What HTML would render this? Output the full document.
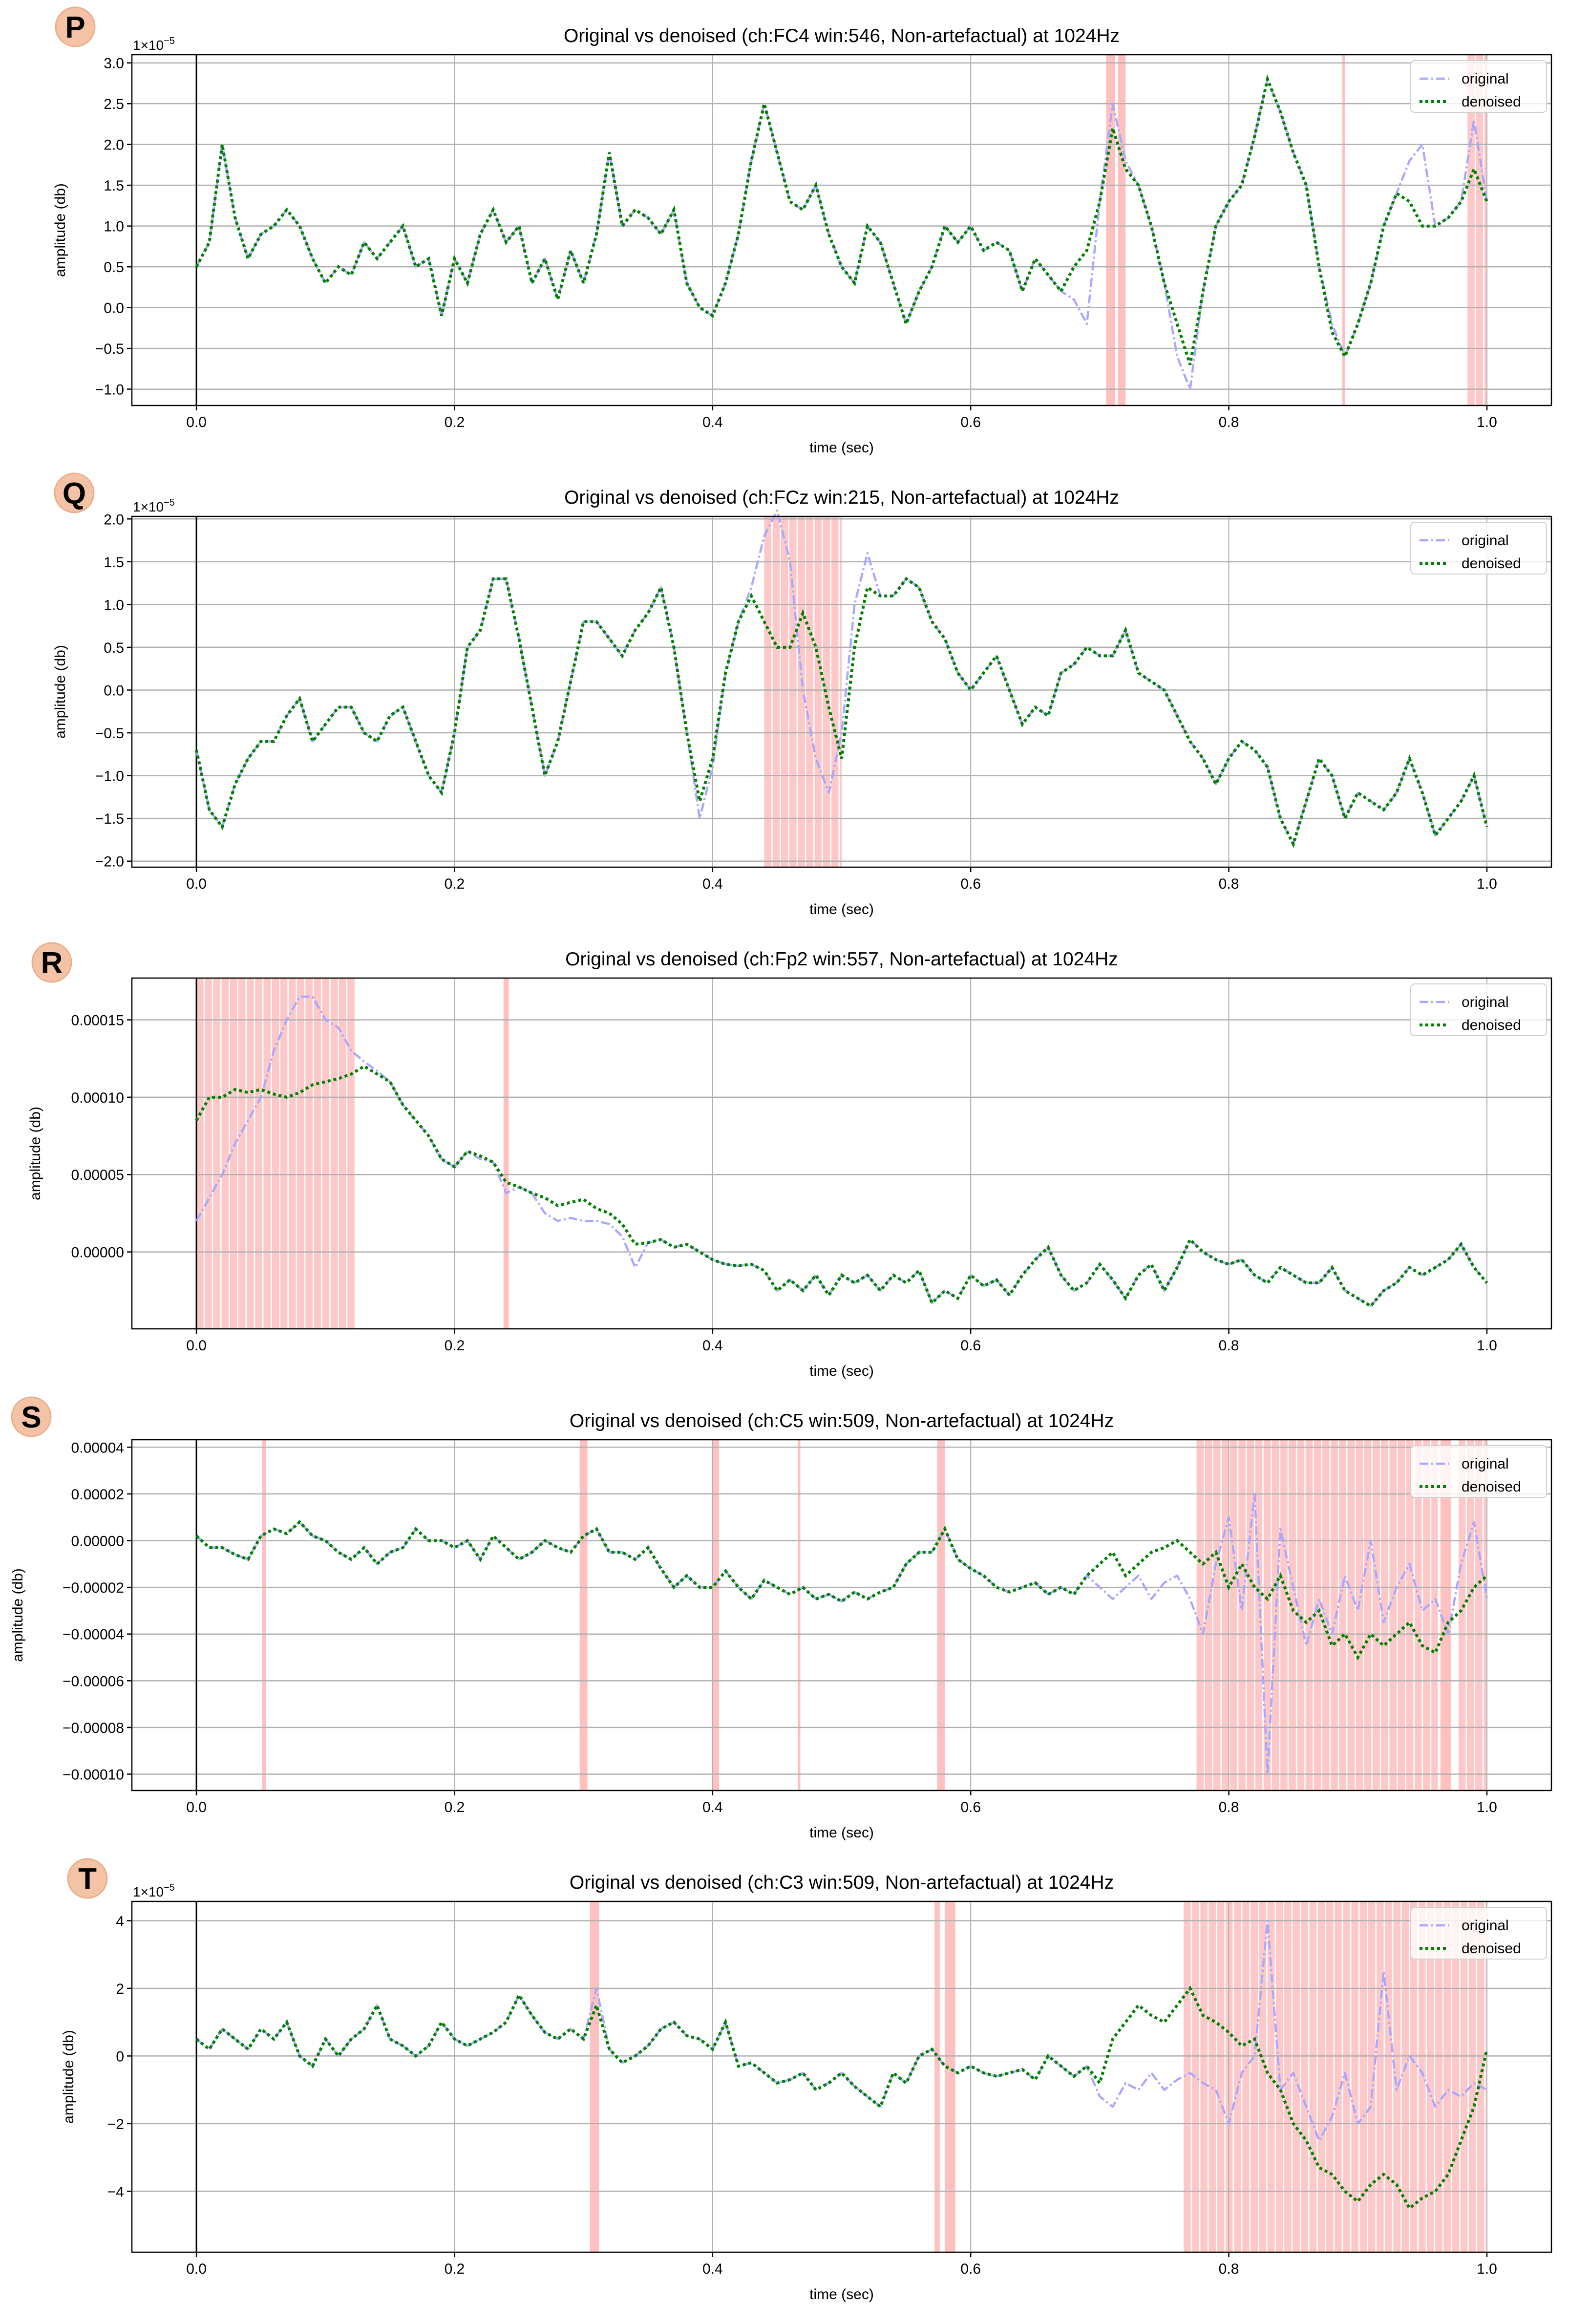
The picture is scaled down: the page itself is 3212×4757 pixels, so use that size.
<!DOCTYPE html>
<html><head><meta charset="utf-8">
<style>
html,body{margin:0;padding:0;background:#fff;}
svg{display:block;font-family:"Liberation Sans","DejaVu Sans",sans-serif;}
</style></head>
<body>
<svg id="fig" width="3212" height="4757" viewBox="0 0 3212 4757" xmlns="http://www.w3.org/2000/svg"></svg>
<script>
// ---- data (amplitude values in units of 1e-5, sampled every 0.01 s) ----
const times = [];
for (let i = 0; i <= 100; i++) times.push(i / 100);

const pDen = [0.5,0.8,2.0,1.1,0.6,0.9,1.0,1.2,1.0,0.6,0.3,0.5,0.4,0.8,0.6,0.8,1.0,0.5,0.6,-0.1,0.6,0.3,0.9,1.2,0.8,1.0,0.3,0.6,0.1,0.7,0.3,0.9,1.9,1.0,1.2,1.1,0.9,1.2,0.3,0.0,-0.1,0.3,0.9,1.8,2.5,1.9,1.3,1.2,1.5,0.9,0.5,0.3,1.0,0.8,0.3,-0.2,0.2,0.5,1.0,0.8,1.0,0.7,0.8,0.7,0.2,0.6,0.4,0.2,0.5,0.7,1.3,2.2,1.7,1.5,1.0,0.3,-0.2,-0.7,0.2,1.0,1.3,1.5,2.1,2.8,2.4,1.9,1.5,0.5,-0.3,-0.6,-0.2,0.3,1.0,1.4,1.3,1.0,1.0,1.1,1.3,1.7,1.3];
const pOrig = [0.5,0.8,2.0,1.1,0.6,0.9,1.0,1.2,1.0,0.6,0.3,0.5,0.4,0.8,0.6,0.8,1.0,0.5,0.6,-0.1,0.6,0.3,0.9,1.2,0.8,1.0,0.3,0.6,0.1,0.7,0.3,0.9,1.9,1.0,1.2,1.1,0.9,1.2,0.3,0.0,-0.1,0.3,0.9,1.8,2.5,1.9,1.3,1.2,1.5,0.9,0.5,0.3,1.0,0.8,0.3,-0.2,0.2,0.5,1.0,0.8,1.0,0.7,0.8,0.7,0.2,0.6,0.4,0.2,0.1,-0.2,1.3,2.5,1.8,1.5,1.0,0.3,-0.6,-1.0,0.2,1.0,1.3,1.5,2.1,2.8,2.4,1.9,1.5,0.5,-0.2,-0.6,-0.2,0.3,1.0,1.4,1.8,2.0,1.0,1.1,1.3,2.3,1.3];
const qDen = [-0.7,-1.4,-1.6,-1.1,-0.8,-0.6,-0.6,-0.3,-0.1,-0.6,-0.4,-0.2,-0.2,-0.5,-0.6,-0.3,-0.2,-0.6,-1.0,-1.2,-0.5,0.5,0.7,1.3,1.3,0.6,-0.2,-1.0,-0.6,0.1,0.8,0.8,0.6,0.4,0.7,0.9,1.2,0.5,-0.5,-1.3,-0.8,0.2,0.8,1.1,0.8,0.5,0.5,0.9,0.5,-0.2,-0.8,0.5,1.2,1.1,1.1,1.3,1.2,0.8,0.6,0.2,0.0,0.2,0.4,0.0,-0.4,-0.2,-0.3,0.2,0.3,0.5,0.4,0.4,0.7,0.2,0.1,0.0,-0.3,-0.6,-0.8,-1.1,-0.8,-0.6,-0.7,-0.9,-1.5,-1.8,-1.3,-0.8,-1.0,-1.5,-1.2,-1.3,-1.4,-1.2,-0.8,-1.2,-1.7,-1.5,-1.3,-1.0,-1.6];
const qOrig = [-0.7,-1.4,-1.6,-1.1,-0.8,-0.6,-0.6,-0.3,-0.1,-0.6,-0.4,-0.2,-0.2,-0.5,-0.6,-0.3,-0.2,-0.6,-1.0,-1.2,-0.5,0.5,0.7,1.3,1.3,0.6,-0.2,-1.0,-0.6,0.1,0.8,0.8,0.6,0.4,0.7,0.9,1.2,0.5,-0.5,-1.5,-0.9,0.2,0.8,1.2,1.8,2.1,1.5,0.0,-0.8,-1.2,-0.5,1.0,1.6,1.1,1.1,1.3,1.2,0.8,0.6,0.2,0.0,0.2,0.4,0.0,-0.4,-0.2,-0.3,0.2,0.3,0.5,0.4,0.4,0.7,0.2,0.1,0.0,-0.3,-0.6,-0.8,-1.1,-0.8,-0.6,-0.7,-0.9,-1.5,-1.8,-1.3,-0.8,-1.0,-1.5,-1.2,-1.3,-1.4,-1.2,-0.8,-1.2,-1.7,-1.5,-1.3,-1.0,-1.6];
const rDen = [8.5,10,10,10.5,10.3,10.5,10.2,10.0,10.3,10.8,11,11.2,11.5,12.0,11.5,11,9.5,8.5,7.5,6,5.5,6.5,6.2,5.8,4.5,4.2,3.8,3.5,3.0,3.2,3.4,2.8,2.5,1.8,0.5,0.6,0.8,0.3,0.5,0,-0.5,-0.8,-0.9,-0.8,-1.2,-2.5,-1.8,-2.5,-1.5,-2.8,-1.5,-2.0,-1.5,-2.5,-1.5,-2.0,-1.2,-3.3,-2.5,-3.0,-1.5,-2.2,-1.8,-2.8,-1.5,-0.5,0.3,-1.5,-2.5,-2.0,-0.8,-1.8,-3.0,-1.5,-0.8,-2.5,-1.0,0.8,0,-0.5,-0.8,-0.5,-1.5,-2.0,-1.0,-1.5,-2.0,-2.0,-1.0,-2.5,-3.0,-3.5,-2.5,-2.0,-1.0,-1.5,-1.0,-0.5,0.5,-1.0,-2.0];
const rOrig = [2,3.5,5,7,8.5,10,13,15,16.5,16.5,15,14.5,13,12.3,11.7,11,9.5,8.5,7.5,6,5.5,6.5,6.0,5.8,3.8,4.2,3.8,2.5,2.0,2.2,2.0,2.0,1.8,1.0,-1.0,0.6,0.8,0.3,0.5,0,-0.5,-0.8,-0.9,-0.8,-1.2,-2.5,-1.8,-2.5,-1.5,-2.8,-1.5,-2.0,-1.5,-2.5,-1.5,-2.0,-1.2,-3.3,-2.5,-3.0,-1.5,-2.2,-1.8,-2.8,-1.5,-0.5,0.3,-1.5,-2.5,-2.0,-0.8,-1.8,-3.0,-1.5,-0.8,-2.5,-1.0,0.8,0,-0.5,-0.8,-0.5,-1.5,-2.0,-1.0,-1.5,-2.0,-2.0,-1.0,-2.5,-3.0,-3.5,-2.5,-2.0,-1.0,-1.5,-1.0,-0.5,0.5,-1.0,-2.0];
const sDen = [0.2,-0.3,-0.3,-0.6,-0.8,0.2,0.5,0.3,0.8,0.2,0.0,-0.5,-0.8,-0.3,-1.0,-0.5,-0.3,0.5,0.0,0.0,-0.3,0.0,-0.8,0.2,-0.3,-0.8,-0.5,0.0,-0.3,-0.5,0.2,0.5,-0.5,-0.5,-0.8,-0.3,-1.2,-2.0,-1.5,-2.0,-2.0,-1.3,-2.0,-2.5,-1.7,-2.0,-2.3,-2.0,-2.5,-2.3,-2.6,-2.2,-2.5,-2.2,-2.0,-1.0,-0.5,-0.5,0.5,-0.8,-1.2,-1.5,-2.0,-2.2,-2.0,-1.8,-2.3,-2.0,-2.3,-1.5,-1.0,-0.5,-1.5,-1.0,-0.5,-0.3,0.0,-0.5,-1.0,-0.5,-2.0,-1.0,-2.0,-2.5,-1.5,-3.0,-3.5,-3.0,-4.5,-4.0,-5.0,-4.0,-4.5,-4.0,-3.5,-4.5,-4.8,-3.5,-3.0,-2.0,-1.5];
const sOrig = [0.2,-0.3,-0.3,-0.6,-0.8,0.2,0.5,0.3,0.8,0.2,0.0,-0.5,-0.8,-0.3,-1.0,-0.5,-0.3,0.5,0.0,0.0,-0.3,0.0,-0.8,0.2,-0.3,-0.8,-0.5,0.0,-0.3,-0.5,0.2,0.5,-0.5,-0.5,-0.8,-0.3,-1.2,-2.0,-1.5,-2.0,-2.0,-1.3,-2.0,-2.5,-1.7,-2.0,-2.3,-2.0,-2.5,-2.3,-2.6,-2.2,-2.5,-2.2,-2.0,-1.0,-0.5,-0.5,0.5,-0.8,-1.2,-1.5,-2.0,-2.2,-2.0,-1.8,-2.3,-2.0,-2.3,-1.5,-2.0,-2.5,-2.0,-1.5,-2.5,-1.8,-1.5,-2.5,-4.0,-1.0,1.0,-3.0,2.0,-10.0,0.5,-2.0,-4.5,-2.5,-4.0,-1.5,-3.0,0.0,-3.5,-2.0,-1.0,-3.0,-2.5,-4.0,-1.0,0.8,-2.5];
const tDen = [0.5,0.2,0.8,0.5,0.2,0.8,0.5,1.0,0.0,-0.3,0.5,0.0,0.5,0.8,1.5,0.5,0.3,0.0,0.3,1.0,0.5,0.3,0.5,0.7,1.0,1.8,1.2,0.7,0.5,0.8,0.5,1.5,0.2,-0.2,0.0,0.3,0.8,1.0,0.6,0.5,0.2,1.0,-0.3,-0.2,-0.5,-0.8,-0.7,-0.5,-1.0,-0.8,-0.5,-0.9,-1.2,-1.5,-0.5,-0.8,0.0,0.2,-0.3,-0.5,-0.3,-0.5,-0.6,-0.5,-0.4,-0.7,0.0,-0.3,-0.6,-0.3,-0.8,0.5,1.0,1.5,1.2,1.0,1.5,2.0,1.2,1.0,0.7,0.3,0.5,-0.5,-1.0,-2.0,-2.5,-3.3,-3.5,-4.0,-4.3,-3.8,-3.5,-3.8,-4.5,-4.2,-4.0,-3.5,-2.5,-1.5,0.2];
const tOrig = [0.5,0.2,0.8,0.5,0.2,0.8,0.5,1.0,0.0,-0.3,0.5,0.0,0.5,0.8,1.5,0.5,0.3,0.0,0.3,1.0,0.5,0.3,0.5,0.7,1.0,1.8,1.2,0.7,0.5,0.8,0.5,2.0,0.2,-0.2,0.0,0.3,0.8,1.0,0.6,0.5,0.2,1.0,-0.3,-0.2,-0.5,-0.8,-0.7,-0.5,-1.0,-0.8,-0.5,-0.9,-1.2,-1.5,-0.5,-0.8,0.0,0.2,-0.3,-0.5,-0.3,-0.5,-0.6,-0.5,-0.4,-0.7,0.0,-0.3,-0.6,-0.3,-1.2,-1.5,-0.8,-1.0,-0.5,-1.0,-0.7,-0.5,-0.8,-1.0,-2.0,-0.5,0.0,4.0,-1.0,-0.5,-1.5,-2.5,-1.8,-0.5,-2.0,-1.5,2.5,-1.0,0.0,-0.5,-1.5,-1.0,-1.2,-0.8,-1.0];

// artefact spans [start, end] in seconds
const pSpans = [[0.705,0.712],[0.714,0.72],[0.888,0.89],[0.985,1.0]];
const qSpans = [[0.44,0.50]];
const rSpans = [[0.0,0.123],[0.238,0.242]];
const sSpans = [[0.051,0.054],[0.297,0.303],[0.400,0.405],[0.466,0.468],[0.574,0.58],[0.775,0.962],[0.964,0.972],[0.978,1.0]];
const tSpans = [[0.305,0.312],[0.572,0.576],[0.58,0.588],[0.765,1.0]];

const pTicks = [-1.0,-0.5,0.0,0.5,1.0,1.5,2.0,2.5,3.0];
const pTickLabels = ["−1.0","−0.5","0.0","0.5","1.0","1.5","2.0","2.5","3.0"];
const qTicks = [-2.0,-1.5,-1.0,-0.5,0.0,0.5,1.0,1.5,2.0];
const qTickLabels = ["−2.0","−1.5","−1.0","−0.5","0.0","0.5","1.0","1.5","2.0"];
const rTicks = [0,5,10,15];
const rTickLabels = ["0.00000","0.00005","0.00010","0.00015"];
const sTicks = [-10,-8,-6,-4,-2,0,2,4];
const sTickLabels = ["−0.00010","−0.00008","−0.00006","−0.00004","−0.00002","0.00000","0.00002","0.00004"];
const tTicks = [-4,-2,0,2,4];
const tTickLabels = ["−4","−2","0","2","4"];
const xTicks = [0,0.2,0.4,0.6,0.8,1.0];
const xTickLabels = ["0.0","0.2","0.4","0.6","0.8","1.0"];

const panels = [
  {letter:"P", title:"Original vs denoised (ch:FC4 win:546, Non-artefactual) at 1024Hz", den:pDen, orig:pOrig, spans:pSpans, ticks:pTicks, labels:pTickLabels, ylim:[-1.2,3.1], offset:true, lx:154, ly:55, ylabX:133},
  {letter:"Q", title:"Original vs denoised (ch:FCz win:215, Non-artefactual) at 1024Hz", den:qDen, orig:qOrig, spans:qSpans, ticks:qTicks, labels:qTickLabels, ylim:[-2.07,2.03], offset:true, lx:152, ly:1009, ylabX:133},
  {letter:"R", title:"Original vs denoised (ch:Fp2 win:557, Non-artefactual) at 1024Hz", den:rDen, orig:rOrig, spans:rSpans, ticks:rTicks, labels:rTickLabels, ylim:[-4.97,17.7], offset:false, lx:106, ly:1970, ylabX:82},
  {letter:"S", title:"Original vs denoised (ch:C5 win:509, Non-artefactual) at 1024Hz", den:sDen, orig:sOrig, spans:sSpans, ticks:sTicks, labels:sTickLabels, ylim:[-10.7,4.32], offset:false, lx:64, ly:2900, ylabX:46},
  {letter:"T", title:"Original vs denoised (ch:C3 win:509, Non-artefactual) at 1024Hz", den:tDen, orig:tOrig, spans:tSpans, ticks:tTicks, labels:tTickLabels, ylim:[-5.8,4.57], offset:true, lx:179, ly:3845, ylabX:150}
];

const NS = "http://www.w3.org/2000/svg";
const svg = document.getElementById("fig");
function mk(tag, attrs, parent) {
  const e = document.createElementNS(NS, tag);
  for (const k in attrs) e.setAttribute(k, attrs[k]);
  (parent || svg).appendChild(e);
  return e;
}
const AX_L = 270, AX_R = 3176, AX_H = 718, TOP0 = 112, STEP = 945;
const XMIN = -0.05, XMAX = 1.05;

panels.forEach((p, k) => {
  const top = TOP0 + k * STEP, bot = top + AX_H;
  const xs = t => AX_L + (t - XMIN) / (XMAX - XMIN) * (AX_R - AX_L);
  const ys = v => bot - (v - p.ylim[0]) / (p.ylim[1] - p.ylim[0]) * AX_H;
  const g = mk("g", {});
  
  

  // panel letter badge
  const badge = mk("g", {}, g);
  
  
  mk("circle", {cx:p.lx, cy:p.ly, r:40, fill:"#f4c3a6", stroke:"#eab08e", "stroke-width":3}, badge);
  const lt = mk("text", {x:p.lx, y:p.ly+22, "text-anchor":"middle", "font-size":62, "font-weight":"bold", fill:"#000"}, badge);
  lt.textContent = p.letter;

  // title
  const tt = mk("text", {x:(AX_L+AX_R)/2, y:top-26, "text-anchor":"middle", "font-size":39, fill:"#000"}, g);
  
  
  tt.textContent = p.title;

  // spans
  const sg = mk("g", {}, g);
  
  
  p.spans.forEach(sp => {
    const w = sp[1] - sp[0];
    if (w > 0.012) {
      for (let a = sp[0]; a < sp[1]; a += 0.0065) {
        const b = Math.min(a + 0.0055, sp[1]);
        const r = mk("rect", {x:xs(a), y:top, width:Math.max(xs(b)-xs(a),2), height:AX_H, fill:"#ffc8c8"}, sg);
        
        
      }
    } else {
      const r = mk("rect", {x:xs(sp[0]), y:top, width:Math.max(xs(sp[1])-xs(sp[0]),3), height:AX_H, fill:"#ffc0c0"}, sg);
      
      
    }
  });

  // grid
  xTicks.forEach(t => mk("line", {x1:xs(t), x2:xs(t), y1:top, y2:bot, stroke:"#b0b0b0", "stroke-width":2}, g));
  p.ticks.forEach(v => mk("line", {x1:AX_L, x2:AX_R, y1:ys(v), y2:ys(v), stroke:"#b0b0b0", "stroke-width":2.5}, g));
  // axvline at 0
  mk("line", {x1:xs(0), x2:xs(0), y1:top, y2:bot, stroke:"#000", "stroke-width":3}, g);

  // series
  const path = arr => arr.map((v,i) => (i?"L":"M") + xs(times[i]).toFixed(1) + "," + ys(v).toFixed(1)).join("");
  const o = mk("path", {d:path(p.orig), fill:"none", stroke:"#a8a8ff", "stroke-width":4.5, "stroke-dasharray":"18 6 4 6", "stroke-linejoin":"round"}, g);
  
  
  const d = mk("path", {d:path(p.den), fill:"none", stroke:"#008000", "stroke-width":6, "stroke-dasharray":"6 6"}, g);
  
  

  // frame
  mk("rect", {x:AX_L, y:top, width:AX_R-AX_L, height:AX_H, fill:"none", stroke:"#000", "stroke-width":2.5}, g);

  // x ticks
  xTicks.forEach((t,i) => {
    mk("line", {x1:xs(t), x2:xs(t), y1:bot, y2:bot+10, stroke:"#000", "stroke-width":2.5}, g);
    const tx = mk("text", {x:xs(t), y:bot+44, "text-anchor":"middle", "font-size":30, fill:"#000"}, g);
    
    
    tx.textContent = xTickLabels[i];
  });
  // y ticks
  p.ticks.forEach((v,i) => {
    mk("line", {x1:AX_L-10, x2:AX_L, y1:ys(v), y2:ys(v), stroke:"#000", "stroke-width":2.5}, g);
    const ty = mk("text", {x:AX_L-16, y:ys(v)+11, "text-anchor":"end", "font-size":30, fill:"#000"}, g);
    
    
    ty.textContent = p.labels[i];
  });
  if (p.offset) {
    const of = mk("text", {x:AX_L+2, y:top-10, "font-size":28, fill:"#000"}, g);
    
    
    of.innerHTML = '1×10<tspan dy="-12" font-size="20">−5</tspan>';
  }
  // axis labels
  const xl = mk("text", {x:(AX_L+AX_R)/2, y:bot+96, "text-anchor":"middle", "font-size":30, fill:"#000"}, g);
  
  
  xl.textContent = "time (sec)";
  const yc = (top+bot)/2;
  const yl = mk("text", {x:p.ylabX, y:yc, "text-anchor":"middle", "font-size":30, fill:"#000", transform:`rotate(-90 ${p.ylabX} ${yc})`}, g);
  
  
  yl.textContent = "amplitude (db)";

  // legend
  const lg = mk("g", {}, g);
  
  
  const lx0 = 2888, ly0 = top + 12;
  mk("rect", {x:lx0, y:ly0, width:278, height:106, rx:8, fill:"rgba(255,255,255,0.8)", stroke:"#d0d0d0", "stroke-width":2}, lg);
  mk("line", {x1:lx0+18, x2:lx0+78, y1:ly0+37, y2:ly0+37, stroke:"#a8a8ff", "stroke-width":4.5, "stroke-dasharray":"18 6 4 6"}, lg);
  const e1 = mk("text", {x:lx0+104, y:ly0+47, "font-size":30, fill:"#000"}, lg);
  
  
  e1.textContent = "original";
  mk("line", {x1:lx0+18, x2:lx0+78, y1:ly0+84, y2:ly0+84, stroke:"#008000", "stroke-width":6, "stroke-dasharray":"6 6"}, lg);
  const e2 = mk("text", {x:lx0+104, y:ly0+94, "font-size":30, fill:"#000"}, lg);
  
  
  e2.textContent = "denoised";
});
</script>
</body></html>
